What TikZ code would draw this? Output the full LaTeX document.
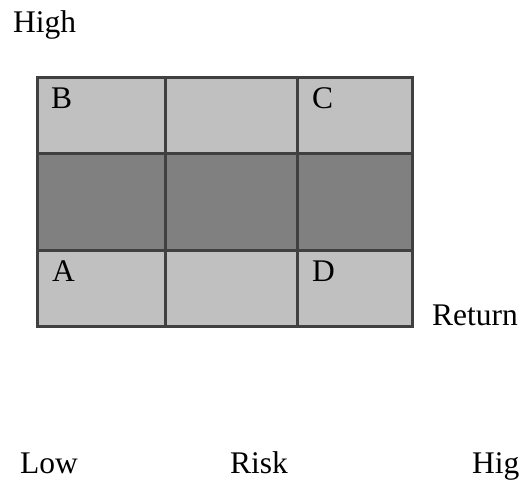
\documentclass[tikz,border=0pt]{standalone}
\usepackage{fontspec}
\setmainfont{Liberation Serif}
\definecolor{gridline}{HTML}{404040}
\definecolor{lightcell}{HTML}{C0C0C0}
\definecolor{darkcell}{HTML}{808080}
\tikzset{
  cell/.style={draw=gridline, line width=3pt, inner sep=0pt, outer sep=0pt, anchor=north west},
  lite/.style={cell, fill=lightcell},
  dark/.style={cell, fill=darkcell},
  txt/.style={inner sep=0pt, anchor=base west, font=\fontsize{31.5}{36}\selectfont}
}
\begin{document}
\begin{tikzpicture}[x=1pt, y=-1pt]
\useasboundingbox (0,0) rectangle (519,482);
\clip (0,0) rectangle (519,482);
% row 1
\node[lite, minimum width=128pt, minimum height=76pt] (c11) at (37,77) {};
\node[lite, minimum width=132pt, minimum height=76pt] (c12) at (165,77) {};
\node[lite, minimum width=115pt, minimum height=76pt] (c13) at (297,77) {};
% row 2
\node[dark, minimum width=128pt, minimum height=97pt] (c21) at (37,153) {};
\node[dark, minimum width=132pt, minimum height=97pt] (c22) at (165,153) {};
\node[dark, minimum width=115pt, minimum height=97pt] (c23) at (297,153) {};
% row 3
\node[lite, minimum width=128pt, minimum height=76pt] (c31) at (37,250) {};
\node[lite, minimum width=132pt, minimum height=76pt] (c32) at (165,250) {};
\node[lite, minimum width=115pt, minimum height=76pt] (c33) at (297,250) {};
% cell labels
\node[txt] (lb) at (51,108) {B};
\node[txt] (lc) at (312,108) {C};
\node[txt] (la) at (52,281) {A};
\node[txt] (ld) at (312,281) {D};
% axis texts
\node[txt] (high) at (13,32) {High};
\node[txt] (ret) at (432,325) {Return};
\node[txt] (low) at (20,473) {Low};
\node[txt] (risk) at (230,473) {Risk};
\node[txt] (high2) at (472,473) {Hig};
\end{tikzpicture}
\end{document}
